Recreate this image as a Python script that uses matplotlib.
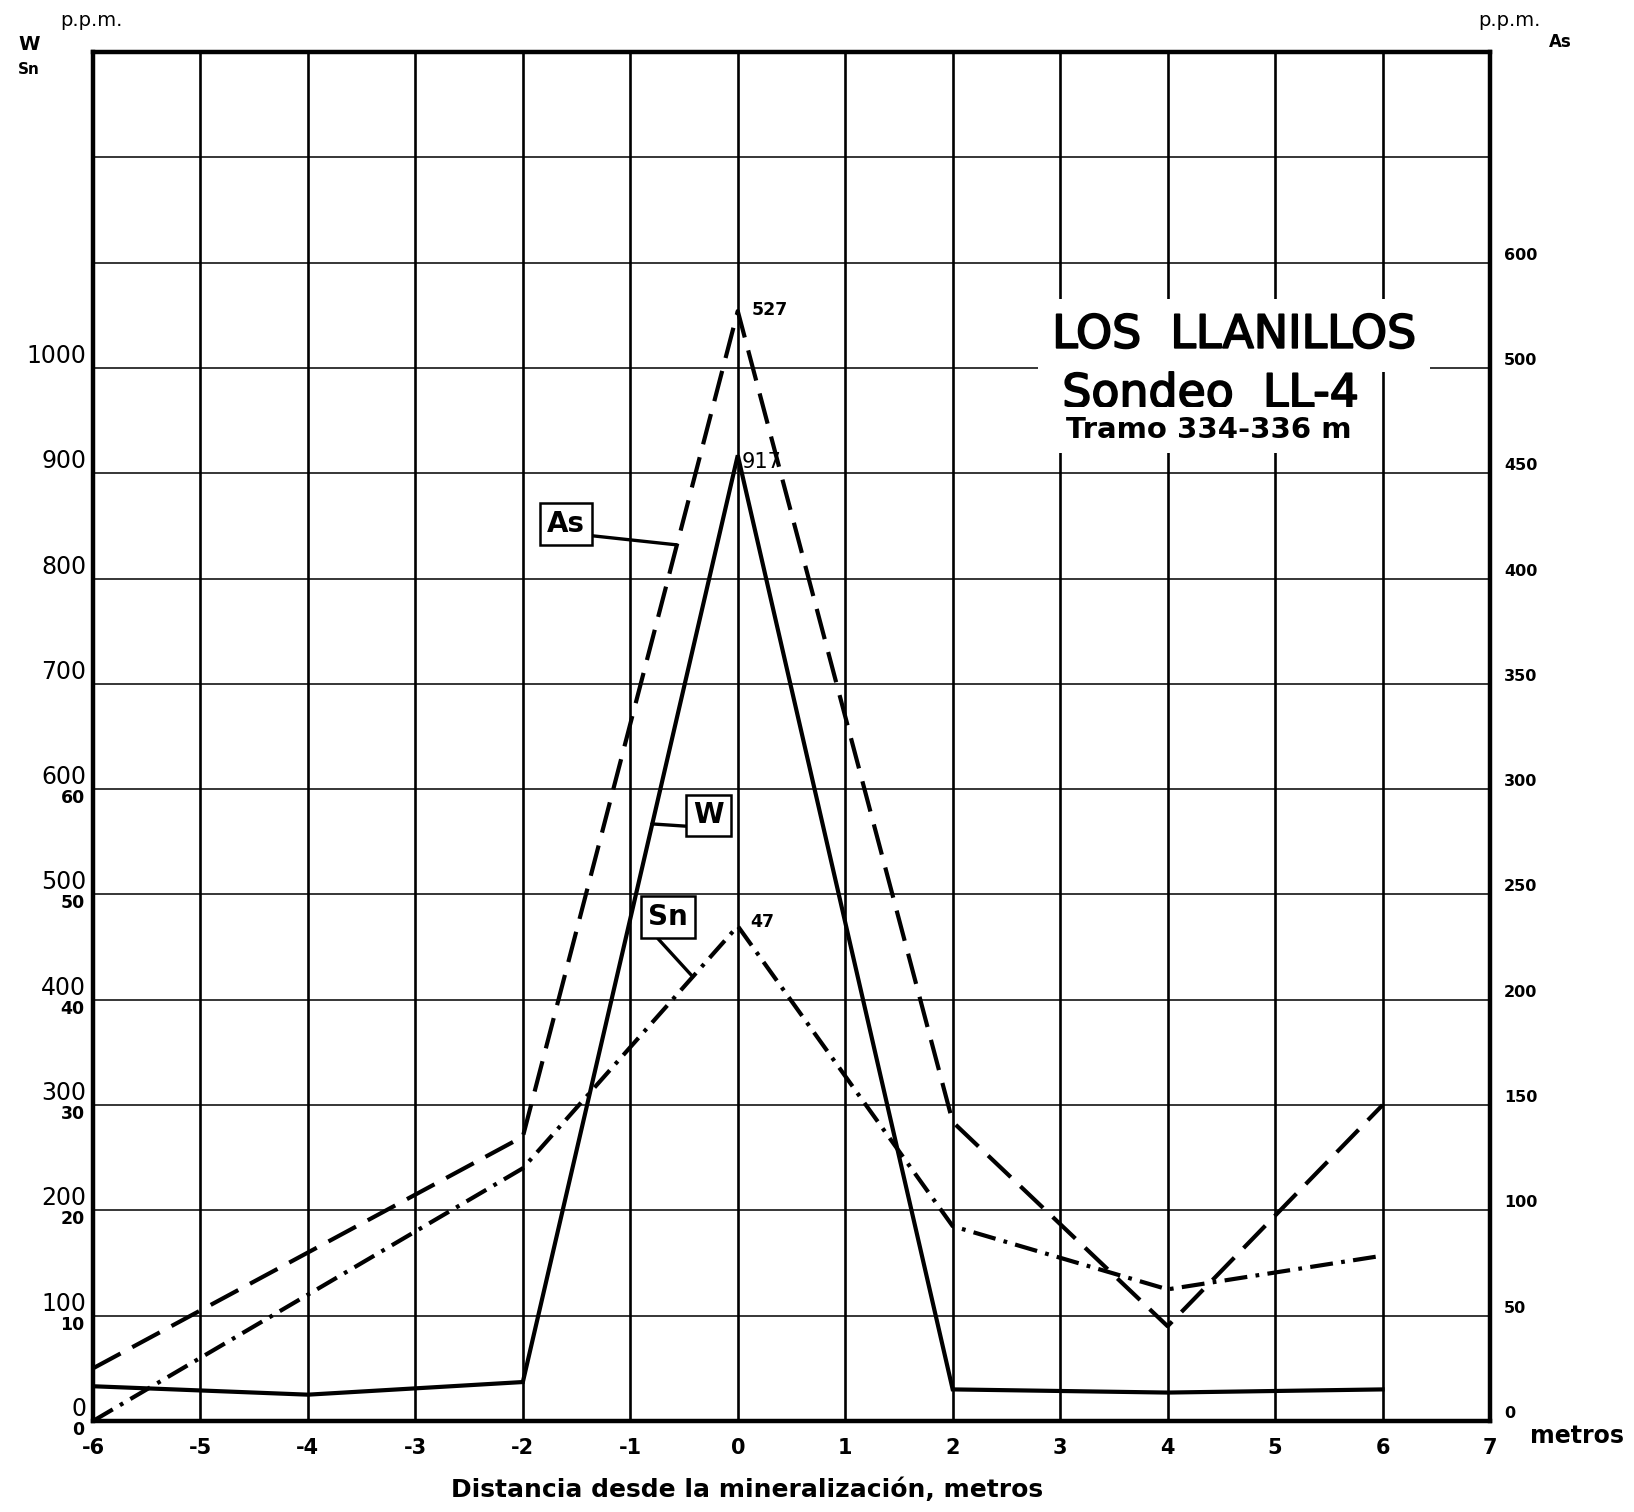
import matplotlib
matplotlib.use("Agg")
import matplotlib.pyplot as plt
import matplotlib.patheffects as pe
import numpy as np

# distancia desde la mineralizacion (m)
dist = [-6, -4, -2, 0, 2, 4, 6]
w_ppm = [33, 25, 37, 917, 30, 27, 30]
sn_ppm = [0, 12, 24, 47, 18.5, 12.5, 15.7]
as_ppm = [25, 80, 135, 527, 142, 45, 150]

x_ticks = list(range(-6, 8))
w_ticks = list(range(0, 1100, 100))
sn_ticks = list(range(0, 70, 10))
as_ticks = list(range(0, 600, 50))
as_labels = [str(v) for v in range(0, 550, 50)] + ["600"]  # as printed

plt.rcParams['font.family'] = ['DejaVu Sans']

W, H = 1634, 1512
fig = plt.figure(figsize=(W / 100, H / 100), dpi=100)
ax = fig.add_axes([93 / W, 1 - 1421 / H, (1490 - 93) / W, (1421 - 52) / H])

ax.set_xlim(-6, 7)
ax.set_ylim(0, 1300)

# grid
ax.vlines(x_ticks[1:-1], 0, 1300, color='black', lw=1.9, zorder=1)
ax.hlines(np.arange(100, 1300, 100), -6, 7, color='black', lw=1.1, zorder=1)

for s in ax.spines.values():
    s.set_linewidth(3.2)

ax.set_xticks(x_ticks)
ax.set_xticklabels([str(v) for v in x_ticks], fontsize=15, fontweight='bold')
ax.tick_params(axis='x', length=0, pad=12)

ax.set_yticks(w_ticks)
ax.set_yticklabels([str(v) for v in w_ticks], fontsize=17)
ax.tick_params(axis='y', length=0, pad=5)
plt.setp(ax.get_yticklabels(), va='bottom')

# Sn scale, also on the left
ax_sn = ax.twinx()
ax_sn.set_ylim(0, 130)
ax_sn.yaxis.set_ticks_position('left')
ax_sn.set_yticks(sn_ticks)
ax_sn.set_yticklabels([str(v) for v in sn_ticks], fontsize=12.5, fontweight='bold')
ax_sn.tick_params(axis='y', length=0, pad=6)
plt.setp(ax_sn.get_yticklabels(), va='top')
for s in ax_sn.spines.values():
    s.set_visible(False)

# As scale on the right
ax_as = ax.twinx()
ax_as.set_ylim(0, 650)
ax_as.set_yticks(as_ticks)
ax_as.set_yticklabels(as_labels, fontsize=11.5, fontweight='bold')
ax_as.tick_params(axis='y', length=0, pad=10)
plt.setp(ax_as.get_yticklabels(), va='bottom')
for s in ax_as.spines.values():
    s.set_visible(False)

# series
ax.plot(dist, w_ppm, color='black', lw=3.0, zorder=4, solid_joinstyle='miter')
ax_as.plot(dist, as_ppm, color='black', lw=3.0, dashes=(7.5, 3.2), zorder=4)
ax_sn.plot(dist, sn_ppm, color='black', lw=3.0, dashes=(5.5, 2.0, 0.9, 2.0), zorder=4)

# peak values
ax_as.annotate("527", xy=(0, as_ppm[3]), xytext=(10, 1), textcoords='offset points',
               fontsize=12.5, fontweight='bold', va='center')
ax.annotate("917", xy=(0, w_ppm[3]), xytext=(3, -5), textcoords='offset points',
            fontsize=15, va='center')
ax_sn.annotate("47", xy=(0, sn_ppm[3]), xytext=(9, 3), textcoords='offset points',
               fontsize=12.5, fontweight='bold', va='center')

box = dict(boxstyle='square,pad=0.25', fc='white', ec='black', lw=1.8)
ax_as.annotate("As", xy=(-0.57, 416), xytext=(-1.6, 426), fontsize=20, fontweight='bold',
               ha='center', va='center', bbox=box, zorder=6,
               arrowprops=dict(arrowstyle='-', lw=2.4, color='black', relpos=(1, 0.1),
                               shrinkA=0, shrinkB=0))
ax.annotate("W", xy=(-0.8, 567), xytext=(-0.27, 575), fontsize=20, fontweight='bold',
            ha='center', va='center', bbox=box, zorder=6,
            arrowprops=dict(arrowstyle='-', lw=2.4, color='black', relpos=(0, 0.1),
                            shrinkA=0, shrinkB=0))
ax_sn.annotate("Sn", xy=(-0.42, 42.2), xytext=(-0.65, 47.9), fontsize=20, fontweight='bold',
               ha='center', va='center', bbox=box, zorder=6,
               arrowprops=dict(arrowstyle='-', lw=2.4, color='black', relpos=(0, 0.1),
                               shrinkA=0, shrinkB=0))

# title block
wbox = dict(boxstyle='square,pad=0.3', fc='white', ec='none')
thick = [pe.withStroke(linewidth=1.3, foreground='black')]
ax.text(4.62, 1031, "LOS  LLANILLOS", fontsize=33, ha='center', va='center', bbox=wbox,
        zorder=3, path_effects=thick)
ax.text(4.40, 975, "Sondeo  LL-4", fontsize=33, ha='center', va='center', bbox=wbox,
        zorder=3, path_effects=thick)
ax.text(4.38, 941, "Tramo 334-336 m", fontsize=21, fontweight='bold', ha='center', va='center',
        bbox=wbox, zorder=3)

# axis captions
fig.text(60 / W, 1 - 20 / H, "p.p.m.", fontsize=14, ha='left', va='center')
fig.text(18 / W, 1 - 45 / H, "W", fontsize=14, fontweight='bold', ha='left', va='center')
fig.text(18 / W, 1 - 70 / H, "Sn", fontsize=11, fontweight='bold', ha='left', va='center')
fig.text(1478 / W, 1 - 20 / H, "p.p.m.", fontsize=14, ha='left', va='center')
fig.text(1560 / W, 1 - 42 / H, "As", fontsize=12, fontweight='bold', ha='center', va='center')
fig.text(1530 / W, 1 - 1436 / H, "metros", fontsize=17, fontweight='bold', ha='left', va='center')

fig.text(747 / W, 1 - 1490 / H, "Distancia desde la mineralización, metros", fontsize=18,
         fontweight='bold', ha='center', va='center')

fig.savefig("out.png", dpi=100, facecolor='white')
